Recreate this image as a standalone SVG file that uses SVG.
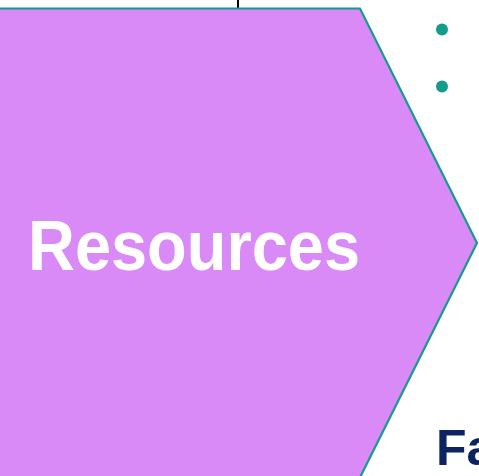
<svg xmlns="http://www.w3.org/2000/svg" width="479" height="476" viewBox="0 0 479 476">
<style>
.lbl{font-family:"Liberation Sans",Arial,sans-serif;font-weight:bold}
</style>
<rect width="479" height="476" fill="#ffffff"/>
<g id="connectors">
<line x1="238" y1="0" x2="238" y2="9" stroke="#000000" stroke-width="2"/>
</g>
<g id="resources">
<polygon points="-10,8.5 360,8.5 477,243 360,477.5 -10,477.5" fill="#d98af7" stroke="#139b8b" stroke-width="2.2"/>
<text class="lbl" x="28" y="270" font-size="70" fill="#ffffff" textLength="332" lengthAdjust="spacingAndGlyphs">Resources</text>
</g>
<g id="bullets">
<circle cx="442" cy="29.5" r="6" fill="#139b8b"/>
<circle cx="442" cy="86.5" r="6" fill="#139b8b"/>
</g>
<g id="factors">
<text class="lbl" x="436" y="465" font-size="50" fill="#0d2461">Fa</text>
</g>
</svg>
